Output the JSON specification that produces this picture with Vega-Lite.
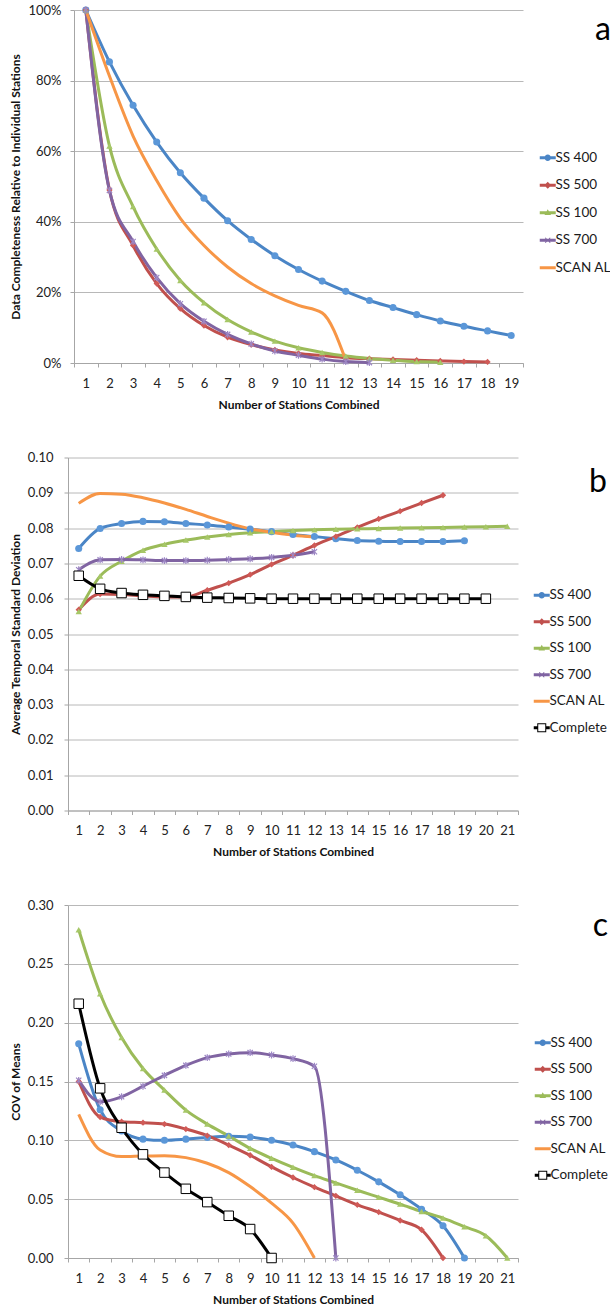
{
  "$schema": "https://vega.github.io/schema/vega-lite/v6.json",
  "padding": {"left": 9, "top": 4, "right": 0, "bottom": 0},
  "bounds": "flush",
  "spacing": 94.5,
  "resolve": {"scale": {"color": "independent", "fill": "independent", "shape": "independent"}, "legend": {"color": "independent", "fill": "independent", "shape": "independent"}},
  "config": {
    "font": "Lato",
    "view": {"stroke": null},
    "axis": {"domainColor": "#A6A6A6", "tickColor": "#A6A6A6", "gridColor": "#B8B8B8", "tickSize": 4, "labelFontSize": 13, "labelColor": "#222222", "titleFontSize": 12, "titleFontWeight": "bold", "titleColor": "#111111", "labelFont": "Lato", "titleFont": "Lato"},
    "axisX": {"grid": false, "labelAngle": 0, "labelPadding": 10, "titlePadding": 9},
    "axisY": {"labelPadding": 11},
    "legend": {"symbolSize": 100, "symbolStrokeWidth": 0, "symbolOpacity": 1, "labelFontSize": 13.5, "labelFont": "Lato", "labelColor": "#1a1a1a", "labelOffset": 1, "padding": 0, "titleFontSize": 32, "titleFontWeight": "normal", "titleFont": "Lato", "titleColor": "#000000", "titleAnchor": "end", "titleBaseline": "top", "titleLimit": 300, "labelLimit": 300}
  },
  "datasets": {
    "a": [
      {"s": "SS 400", "n": 1, "v": 1}, {"s": "SS 400", "n": 2, "v": 0.853}, {"s": "SS 400", "n": 3, "v": 0.73}, {"s": "SS 400", "n": 4, "v": 0.626}, {"s": "SS 400", "n": 5, "v": 0.539}, {"s": "SS 400", "n": 6, "v": 0.467}, {"s": "SS 400", "n": 7, "v": 0.403}, {"s": "SS 400", "n": 8, "v": 0.35}, {"s": "SS 400", "n": 9, "v": 0.304}, {"s": "SS 400", "n": 10, "v": 0.265}, {"s": "SS 400", "n": 11, "v": 0.232}, {"s": "SS 400", "n": 12, "v": 0.203}, {"s": "SS 400", "n": 13, "v": 0.177}, {"s": "SS 400", "n": 14, "v": 0.157}, {"s": "SS 400", "n": 15, "v": 0.137}, {"s": "SS 400", "n": 16, "v": 0.119}, {"s": "SS 400", "n": 17, "v": 0.104}, {"s": "SS 400", "n": 18, "v": 0.091}, {"s": "SS 400", "n": 19, "v": 0.078},
      {"s": "SS 500", "n": 1, "v": 1}, {"s": "SS 500", "n": 2, "v": 0.49}, {"s": "SS 500", "n": 3, "v": 0.333}, {"s": "SS 500", "n": 4, "v": 0.225}, {"s": "SS 500", "n": 5, "v": 0.154}, {"s": "SS 500", "n": 6, "v": 0.106}, {"s": "SS 500", "n": 7, "v": 0.073}, {"s": "SS 500", "n": 8, "v": 0.052}, {"s": "SS 500", "n": 9, "v": 0.037}, {"s": "SS 500", "n": 10, "v": 0.027}, {"s": "SS 500", "n": 11, "v": 0.021}, {"s": "SS 500", "n": 12, "v": 0.015}, {"s": "SS 500", "n": 13, "v": 0.012}, {"s": "SS 500", "n": 14, "v": 0.01}, {"s": "SS 500", "n": 15, "v": 0.008}, {"s": "SS 500", "n": 16, "v": 0.006}, {"s": "SS 500", "n": 17, "v": 0.004}, {"s": "SS 500", "n": 18, "v": 0.003},
      {"s": "SS 100", "n": 1, "v": 1}, {"s": "SS 100", "n": 2, "v": 0.615}, {"s": "SS 100", "n": 3, "v": 0.443}, {"s": "SS 100", "n": 4, "v": 0.323}, {"s": "SS 100", "n": 5, "v": 0.234}, {"s": "SS 100", "n": 6, "v": 0.171}, {"s": "SS 100", "n": 7, "v": 0.123}, {"s": "SS 100", "n": 8, "v": 0.088}, {"s": "SS 100", "n": 9, "v": 0.062}, {"s": "SS 100", "n": 10, "v": 0.043}, {"s": "SS 100", "n": 11, "v": 0.03}, {"s": "SS 100", "n": 12, "v": 0.02}, {"s": "SS 100", "n": 13, "v": 0.013}, {"s": "SS 100", "n": 14, "v": 0.008}, {"s": "SS 100", "n": 15, "v": 0.004}, {"s": "SS 100", "n": 16, "v": 0.002},
      {"s": "SS 700", "n": 1, "v": 1}, {"s": "SS 700", "n": 2, "v": 0.489}, {"s": "SS 700", "n": 3, "v": 0.344}, {"s": "SS 700", "n": 4, "v": 0.242}, {"s": "SS 700", "n": 5, "v": 0.168}, {"s": "SS 700", "n": 6, "v": 0.118}, {"s": "SS 700", "n": 7, "v": 0.081}, {"s": "SS 700", "n": 8, "v": 0.054}, {"s": "SS 700", "n": 9, "v": 0.034}, {"s": "SS 700", "n": 10, "v": 0.022}, {"s": "SS 700", "n": 11, "v": 0.011}, {"s": "SS 700", "n": 12, "v": 0.004}, {"s": "SS 700", "n": 13, "v": 0.001},
      {"s": "SCAN AL", "n": 1, "v": 1}, {"s": "SCAN AL", "n": 2, "v": 0.813}, {"s": "SCAN AL", "n": 3, "v": 0.643}, {"s": "SCAN AL", "n": 4, "v": 0.517}, {"s": "SCAN AL", "n": 5, "v": 0.41}, {"s": "SCAN AL", "n": 6, "v": 0.333}, {"s": "SCAN AL", "n": 7, "v": 0.272}, {"s": "SCAN AL", "n": 8, "v": 0.225}, {"s": "SCAN AL", "n": 9, "v": 0.19}, {"s": "SCAN AL", "n": 10, "v": 0.163}, {"s": "SCAN AL", "n": 11, "v": 0.142}, {"s": "SCAN AL", "n": 12, "v": 0.008}
    ],
    "b": [
      {"s": "SS 400", "n": 1, "v": 0.0742}, {"s": "SS 400", "n": 2, "v": 0.0799}, {"s": "SS 400", "n": 3, "v": 0.0813}, {"s": "SS 400", "n": 4, "v": 0.0819}, {"s": "SS 400", "n": 5, "v": 0.0818}, {"s": "SS 400", "n": 6, "v": 0.0813}, {"s": "SS 400", "n": 7, "v": 0.0809}, {"s": "SS 400", "n": 8, "v": 0.0803}, {"s": "SS 400", "n": 9, "v": 0.0797}, {"s": "SS 400", "n": 10, "v": 0.079}, {"s": "SS 400", "n": 11, "v": 0.0782}, {"s": "SS 400", "n": 12, "v": 0.0776}, {"s": "SS 400", "n": 13, "v": 0.077}, {"s": "SS 400", "n": 14, "v": 0.0765}, {"s": "SS 400", "n": 15, "v": 0.0763}, {"s": "SS 400", "n": 16, "v": 0.0762}, {"s": "SS 400", "n": 17, "v": 0.0762}, {"s": "SS 400", "n": 18, "v": 0.0762}, {"s": "SS 400", "n": 19, "v": 0.0764},
      {"s": "SS 500", "n": 1, "v": 0.0569}, {"s": "SS 500", "n": 2, "v": 0.0613}, {"s": "SS 500", "n": 3, "v": 0.0612}, {"s": "SS 500", "n": 4, "v": 0.0608}, {"s": "SS 500", "n": 5, "v": 0.0605}, {"s": "SS 500", "n": 6, "v": 0.0605}, {"s": "SS 500", "n": 7, "v": 0.0624}, {"s": "SS 500", "n": 8, "v": 0.0644}, {"s": "SS 500", "n": 9, "v": 0.0668}, {"s": "SS 500", "n": 10, "v": 0.0697}, {"s": "SS 500", "n": 11, "v": 0.0723}, {"s": "SS 500", "n": 12, "v": 0.0751}, {"s": "SS 500", "n": 13, "v": 0.0776}, {"s": "SS 500", "n": 14, "v": 0.0802}, {"s": "SS 500", "n": 15, "v": 0.0826}, {"s": "SS 500", "n": 16, "v": 0.0848}, {"s": "SS 500", "n": 17, "v": 0.0871}, {"s": "SS 500", "n": 18, "v": 0.0893},
      {"s": "SS 100", "n": 1, "v": 0.0564}, {"s": "SS 100", "n": 2, "v": 0.0664}, {"s": "SS 100", "n": 3, "v": 0.0706}, {"s": "SS 100", "n": 4, "v": 0.0737}, {"s": "SS 100", "n": 5, "v": 0.0754}, {"s": "SS 100", "n": 6, "v": 0.0766}, {"s": "SS 100", "n": 7, "v": 0.0775}, {"s": "SS 100", "n": 8, "v": 0.0782}, {"s": "SS 100", "n": 9, "v": 0.0787}, {"s": "SS 100", "n": 10, "v": 0.079}, {"s": "SS 100", "n": 11, "v": 0.0793}, {"s": "SS 100", "n": 12, "v": 0.0795}, {"s": "SS 100", "n": 13, "v": 0.0797}, {"s": "SS 100", "n": 14, "v": 0.0798}, {"s": "SS 100", "n": 15, "v": 0.0799}, {"s": "SS 100", "n": 16, "v": 0.08}, {"s": "SS 100", "n": 17, "v": 0.0801}, {"s": "SS 100", "n": 18, "v": 0.0802}, {"s": "SS 100", "n": 19, "v": 0.0803}, {"s": "SS 100", "n": 20, "v": 0.0804}, {"s": "SS 100", "n": 21, "v": 0.0805},
      {"s": "SS 700", "n": 1, "v": 0.0682}, {"s": "SS 700", "n": 2, "v": 0.071}, {"s": "SS 700", "n": 3, "v": 0.0711}, {"s": "SS 700", "n": 4, "v": 0.071}, {"s": "SS 700", "n": 5, "v": 0.0708}, {"s": "SS 700", "n": 6, "v": 0.0708}, {"s": "SS 700", "n": 7, "v": 0.0709}, {"s": "SS 700", "n": 8, "v": 0.0711}, {"s": "SS 700", "n": 9, "v": 0.0713}, {"s": "SS 700", "n": 10, "v": 0.0717}, {"s": "SS 700", "n": 11, "v": 0.0723}, {"s": "SS 700", "n": 12, "v": 0.0733},
      {"s": "SCAN AL", "n": 1, "v": 0.087}, {"s": "SCAN AL", "n": 2, "v": 0.0898}, {"s": "SCAN AL", "n": 3, "v": 0.0896}, {"s": "SCAN AL", "n": 4, "v": 0.0886}, {"s": "SCAN AL", "n": 5, "v": 0.0871}, {"s": "SCAN AL", "n": 6, "v": 0.0853}, {"s": "SCAN AL", "n": 7, "v": 0.0833}, {"s": "SCAN AL", "n": 8, "v": 0.0814}, {"s": "SCAN AL", "n": 9, "v": 0.0798}, {"s": "SCAN AL", "n": 10, "v": 0.0788}, {"s": "SCAN AL", "n": 11, "v": 0.078}, {"s": "SCAN AL", "n": 12, "v": 0.0775},
      {"s": "Complete", "n": 1, "v": 0.0665}, {"s": "Complete", "n": 2, "v": 0.0628}, {"s": "Complete", "n": 3, "v": 0.0616}, {"s": "Complete", "n": 4, "v": 0.0611}, {"s": "Complete", "n": 5, "v": 0.0608}, {"s": "Complete", "n": 6, "v": 0.0605}, {"s": "Complete", "n": 7, "v": 0.0603}, {"s": "Complete", "n": 8, "v": 0.0602}, {"s": "Complete", "n": 9, "v": 0.0601}, {"s": "Complete", "n": 10, "v": 0.06}, {"s": "Complete", "n": 11, "v": 0.06}, {"s": "Complete", "n": 12, "v": 0.06}, {"s": "Complete", "n": 13, "v": 0.06}, {"s": "Complete", "n": 14, "v": 0.06}, {"s": "Complete", "n": 15, "v": 0.06}, {"s": "Complete", "n": 16, "v": 0.06}, {"s": "Complete", "n": 17, "v": 0.06}, {"s": "Complete", "n": 18, "v": 0.06}, {"s": "Complete", "n": 19, "v": 0.06}, {"s": "Complete", "n": 20, "v": 0.06}
    ],
    "c": [
      {"s": "SS 400", "n": 1, "v": 0.182}, {"s": "SS 400", "n": 2, "v": 0.126}, {"s": "SS 400", "n": 3, "v": 0.108}, {"s": "SS 400", "n": 4, "v": 0.101}, {"s": "SS 400", "n": 5, "v": 0.1}, {"s": "SS 400", "n": 6, "v": 0.101}, {"s": "SS 400", "n": 7, "v": 0.1025}, {"s": "SS 400", "n": 8, "v": 0.1034}, {"s": "SS 400", "n": 9, "v": 0.1028}, {"s": "SS 400", "n": 10, "v": 0.1}, {"s": "SS 400", "n": 11, "v": 0.096}, {"s": "SS 400", "n": 12, "v": 0.0904}, {"s": "SS 400", "n": 13, "v": 0.0833}, {"s": "SS 400", "n": 14, "v": 0.0746}, {"s": "SS 400", "n": 15, "v": 0.0647}, {"s": "SS 400", "n": 16, "v": 0.0537}, {"s": "SS 400", "n": 17, "v": 0.0415}, {"s": "SS 400", "n": 18, "v": 0.0274}, {"s": "SS 400", "n": 19, "v": 0},
      {"s": "SS 500", "n": 1, "v": 0.15}, {"s": "SS 500", "n": 2, "v": 0.1198}, {"s": "SS 500", "n": 3, "v": 0.1158}, {"s": "SS 500", "n": 4, "v": 0.115}, {"s": "SS 500", "n": 5, "v": 0.1138}, {"s": "SS 500", "n": 6, "v": 0.1096}, {"s": "SS 500", "n": 7, "v": 0.104}, {"s": "SS 500", "n": 8, "v": 0.096}, {"s": "SS 500", "n": 9, "v": 0.0873}, {"s": "SS 500", "n": 10, "v": 0.0774}, {"s": "SS 500", "n": 11, "v": 0.0684}, {"s": "SS 500", "n": 12, "v": 0.0602}, {"s": "SS 500", "n": 13, "v": 0.0528}, {"s": "SS 500", "n": 14, "v": 0.0452}, {"s": "SS 500", "n": 15, "v": 0.039}, {"s": "SS 500", "n": 16, "v": 0.0319}, {"s": "SS 500", "n": 17, "v": 0.024}, {"s": "SS 500", "n": 18, "v": 0},
      {"s": "SS 100", "n": 1, "v": 0.279}, {"s": "SS 100", "n": 2, "v": 0.2246}, {"s": "SS 100", "n": 3, "v": 0.1873}, {"s": "SS 100", "n": 4, "v": 0.161}, {"s": "SS 100", "n": 5, "v": 0.1427}, {"s": "SS 100", "n": 6, "v": 0.1257}, {"s": "SS 100", "n": 7, "v": 0.1138}, {"s": "SS 100", "n": 8, "v": 0.1037}, {"s": "SS 100", "n": 9, "v": 0.0932}, {"s": "SS 100", "n": 10, "v": 0.0847}, {"s": "SS 100", "n": 11, "v": 0.0771}, {"s": "SS 100", "n": 12, "v": 0.07}, {"s": "SS 100", "n": 13, "v": 0.0638}, {"s": "SS 100", "n": 14, "v": 0.0576}, {"s": "SS 100", "n": 15, "v": 0.0517}, {"s": "SS 100", "n": 16, "v": 0.0458}, {"s": "SS 100", "n": 17, "v": 0.0395}, {"s": "SS 100", "n": 18, "v": 0.0339}, {"s": "SS 100", "n": 19, "v": 0.0266}, {"s": "SS 100", "n": 20, "v": 0.0189}, {"s": "SS 100", "n": 21, "v": 0},
      {"s": "SS 700", "n": 1, "v": 0.151}, {"s": "SS 700", "n": 2, "v": 0.1328}, {"s": "SS 700", "n": 3, "v": 0.137}, {"s": "SS 700", "n": 4, "v": 0.146}, {"s": "SS 700", "n": 5, "v": 0.1552}, {"s": "SS 700", "n": 6, "v": 0.1637}, {"s": "SS 700", "n": 7, "v": 0.1703}, {"s": "SS 700", "n": 8, "v": 0.1734}, {"s": "SS 700", "n": 9, "v": 0.1745}, {"s": "SS 700", "n": 10, "v": 0.1725}, {"s": "SS 700", "n": 11, "v": 0.1694}, {"s": "SS 700", "n": 12, "v": 0.163}, {"s": "SS 700", "n": 13, "v": 0},
      {"s": "SCAN AL", "n": 1, "v": 0.122}, {"s": "SCAN AL", "n": 2, "v": 0.0918}, {"s": "SCAN AL", "n": 3, "v": 0.0862}, {"s": "SCAN AL", "n": 4, "v": 0.0867}, {"s": "SCAN AL", "n": 5, "v": 0.087}, {"s": "SCAN AL", "n": 6, "v": 0.0853}, {"s": "SCAN AL", "n": 7, "v": 0.0805}, {"s": "SCAN AL", "n": 8, "v": 0.0726}, {"s": "SCAN AL", "n": 9, "v": 0.0607}, {"s": "SCAN AL", "n": 10, "v": 0.0466}, {"s": "SCAN AL", "n": 11, "v": 0.0297}, {"s": "SCAN AL", "n": 12, "v": 0},
      {"s": "Complete", "n": 1, "v": 0.2161}, {"s": "Complete", "n": 2, "v": 0.1442}, {"s": "Complete", "n": 3, "v": 0.1107}, {"s": "Complete", "n": 4, "v": 0.0881}, {"s": "Complete", "n": 5, "v": 0.0726}, {"s": "Complete", "n": 6, "v": 0.0588}, {"s": "Complete", "n": 7, "v": 0.0475}, {"s": "Complete", "n": 8, "v": 0.0359}, {"s": "Complete", "n": 9, "v": 0.0246}, {"s": "Complete", "n": 10, "v": 0}
    ]
  },
  "vconcat": [
    {
      "width": 455, "height": 353,
      "data": {"name": "a"},
      "encoding": {
        "x": {"field": "n", "type": "ordinal", "bandPosition": 0.5, "scale": {"type": "band", "domain": [1,2,3,4,5,6,7,8,9,10,11,12,13,14,15,16,17,18,19], "range": [6, 455], "paddingInner": 0, "paddingOuter": 0}, "axis": {"title": "Number of Stations Combined", "tickBand": "extent"}},
        "y": {"field": "v", "type": "quantitative", "scale": {"domain": [0, 1], "nice": false}, "axis": {"title": "Data Completeness Relative to Individual Stations", "values": [0, 0.2, 0.4, 0.6, 0.8, 1], "format": ".0%", "offset": -6, "labelPadding": 9, "titleX": -52}}
      },
      "layer": [
        {"mark": {"type": "line", "interpolate": "monotone", "strokeWidth": 3}, "encoding": {"color": {"field": "s", "type": "nominal", "scale": {"domain": ["SCAN AL", "SS 700", "SS 100", "SS 500", "SS 400"], "range": ["#F79646", "#8064A2", "#9BBB59", "#C0504D", "#4A85C6"]}, "legend": null}}},
        {"transform": [{"filter": "datum.s === 'SS 400'"}], "mark": {"type": "point", "shape": "circle", "filled": true, "size": 50, "color": "#5B97D8", "opacity": 1}},
        {"transform": [{"filter": "datum.s === 'SS 500'"}], "mark": {"type": "point", "shape": "diamond", "filled": true, "size": 40, "color": "#D05A57", "opacity": 1}},
        {"transform": [{"filter": "datum.s === 'SS 100'"}], "mark": {"type": "point", "shape": "triangle-up", "filled": true, "size": 40, "color": "#A6C767", "opacity": 1}},
        {"transform": [{"filter": "datum.s === 'SS 700'"}], "mark": {"type": "point", "shape": "M-1,-1L1,1M-1,1L1,-1M0,-1.3L0,1.3", "filled": false, "size": 28, "stroke": "#9C86C4", "strokeWidth": 1.2, "opacity": 1}},
        {
          "mark": {"type": "point", "filled": true, "opacity": 0},
          "encoding": {
            "shape": {"field": "s", "type": "nominal", "scale": {"domain": ["SS 400", "SS 500", "SS 100", "SS 700", "SCAN AL"], "range": [
              "M-1.6,-0.3L1.6,-0.3L1.6,0.3L-1.6,0.3Z M-0.65,0A0.65,0.65 0 1,1 0.65,0A0.65,0.65 0 1,1 -0.65,0Z",
              "M-1.6,-0.3L1.6,-0.3L1.6,0.3L-1.6,0.3Z M0,-0.7L0.7,0L0,0.7L-0.7,0Z",
              "M-1.6,-0.3L1.6,-0.3L1.6,0.3L-1.6,0.3Z M0,-0.7L0.65,0.45L-0.65,0.45Z",
              "M-1.6,-0.3L1.6,-0.3L1.6,0.3L-1.6,0.3Z M-0.43,-0.57L0.57,0.43L0.43,0.57L-0.57,-0.43Z M-0.43,0.57L-0.57,0.43L0.43,-0.57L0.57,-0.43Z",
              "M-1.6,-0.3L1.6,-0.3L1.6,0.3L-1.6,0.3Z"]},
              "legend": {"title": "a", "titlePadding": 104, "orient": "none", "legendX": 473, "legendY": 5, "rowPadding": 12.5}},
            "fill": {"field": "s", "type": "nominal", "scale": {"domain": ["SS 400", "SS 500", "SS 100", "SS 700", "SCAN AL"], "range": ["#4A85C6", "#C0504D", "#9BBB59", "#8064A2", "#F79646"]},
              "legend": {"title": "a", "titlePadding": 104, "orient": "none", "legendX": 473, "legendY": 5, "rowPadding": 12.5}}
          }
        }
      ]
    },
    {
      "width": 450, "height": 353,
      "data": {"name": "b"},
      "encoding": {
        "x": {"field": "n", "type": "ordinal", "bandPosition": 0.5, "scale": {"type": "band", "domain": [1,2,3,4,5,6,7,8,9,10,11,12,13,14,15,16,17,18,19,20,21], "paddingInner": 0, "paddingOuter": 0}, "axis": {"title": "Number of Stations Combined", "tickBand": "extent"}},
        "y": {"field": "v", "type": "quantitative", "scale": {"domain": [0, 0.1], "nice": false}, "axis": {"title": "Average Temporal Standard Deviation", "values": [0, 0.01, 0.02, 0.03, 0.04, 0.05, 0.06, 0.07, 0.08, 0.09, 0.1], "format": ".2f", "titleX": -46}}
      },
      "layer": [
        {"mark": {"type": "line", "interpolate": "monotone", "strokeWidth": 3}, "encoding": {"color": {"field": "s", "type": "nominal", "scale": {"domain": ["Complete", "SCAN AL", "SS 700", "SS 100", "SS 500", "SS 400"], "range": ["#000000", "#F79646", "#8064A2", "#9BBB59", "#C0504D", "#4A85C6"]}, "legend": null}}},
        {"transform": [{"filter": "datum.s === 'SS 400'"}], "mark": {"type": "point", "shape": "circle", "filled": true, "size": 50, "color": "#5B97D8", "opacity": 1}},
        {"transform": [{"filter": "datum.s === 'SS 500'"}], "mark": {"type": "point", "shape": "diamond", "filled": true, "size": 40, "color": "#D05A57", "opacity": 1}},
        {"transform": [{"filter": "datum.s === 'SS 100'"}], "mark": {"type": "point", "shape": "triangle-up", "filled": true, "size": 40, "color": "#A6C767", "opacity": 1}},
        {"transform": [{"filter": "datum.s === 'SS 700'"}], "mark": {"type": "point", "shape": "M-1,-1L1,1M-1,1L1,-1M0,-1.3L0,1.3", "filled": false, "size": 28, "stroke": "#9C86C4", "strokeWidth": 1.2, "opacity": 1}},
        {"transform": [{"filter": "datum.s === 'Complete'"}], "mark": {"type": "point", "shape": "square", "filled": true, "size": 90, "fill": "#FFFFFF", "stroke": "#000000", "strokeWidth": 1, "opacity": 1}},
        {
          "mark": {"type": "point", "filled": true, "opacity": 0},
          "encoding": {
            "shape": {"field": "s", "type": "nominal", "scale": {"domain": ["SS 400", "SS 500", "SS 100", "SS 700", "SCAN AL", "Complete"], "range": [
              "M-1.6,-0.3L1.6,-0.3L1.6,0.3L-1.6,0.3Z M-0.65,0A0.65,0.65 0 1,1 0.65,0A0.65,0.65 0 1,1 -0.65,0Z",
              "M-1.6,-0.3L1.6,-0.3L1.6,0.3L-1.6,0.3Z M0,-0.7L0.7,0L0,0.7L-0.7,0Z",
              "M-1.6,-0.3L1.6,-0.3L1.6,0.3L-1.6,0.3Z M0,-0.7L0.65,0.45L-0.65,0.45Z",
              "M-1.6,-0.3L1.6,-0.3L1.6,0.3L-1.6,0.3Z M-0.43,-0.57L0.57,0.43L0.43,0.57L-0.57,-0.43Z M-0.43,0.57L-0.57,0.43L0.43,-0.57L0.57,-0.43Z",
              "M-1.6,-0.3L1.6,-0.3L1.6,0.3L-1.6,0.3Z",
              "M-1.6,-0.3L-0.9,-0.3L-0.9,0.3L-1.6,0.3Z M0.9,-0.3L1.6,-0.3L1.6,0.3L0.9,0.3Z M-0.9,-0.9L0.9,-0.9L0.9,0.9L-0.9,0.9Z M-0.7,-0.7L-0.7,0.7L0.7,0.7L0.7,-0.7Z"]},
              "legend": {"title": "b", "titlePadding": 90, "orient": "none", "legendX": 467, "legendY": 9, "rowPadding": 11.5}},
            "fill": {"field": "s", "type": "nominal", "scale": {"domain": ["SS 400", "SS 500", "SS 100", "SS 700", "SCAN AL", "Complete"], "range": ["#4A85C6", "#C0504D", "#9BBB59", "#8064A2", "#F79646", "#000000"]},
              "legend": {"title": "b", "titlePadding": 90, "orient": "none", "legendX": 467, "legendY": 9, "rowPadding": 11.5}}
          }
        }
      ]
    },
    {
      "width": 450, "height": 353,
      "data": {"name": "c"},
      "encoding": {
        "x": {"field": "n", "type": "ordinal", "bandPosition": 0.5, "scale": {"type": "band", "domain": [1,2,3,4,5,6,7,8,9,10,11,12,13,14,15,16,17,18,19,20,21], "paddingInner": 0, "paddingOuter": 0}, "axis": {"title": "Number of Stations Combined", "tickBand": "extent"}},
        "y": {"field": "v", "type": "quantitative", "scale": {"domain": [0, 0.3], "nice": false}, "axis": {"title": "COV of Means", "values": [0, 0.05, 0.1, 0.15, 0.2, 0.25, 0.3], "format": ".2f", "titleX": -46}}
      },
      "layer": [
        {"mark": {"type": "line", "interpolate": "monotone", "strokeWidth": 3}, "encoding": {"color": {"field": "s", "type": "nominal", "scale": {"domain": ["Complete", "SCAN AL", "SS 700", "SS 100", "SS 500", "SS 400"], "range": ["#000000", "#F79646", "#8064A2", "#9BBB59", "#C0504D", "#4A85C6"]}, "legend": null}}},
        {"transform": [{"filter": "datum.s === 'SS 400'"}], "mark": {"type": "point", "shape": "circle", "filled": true, "size": 50, "color": "#5B97D8", "opacity": 1}},
        {"transform": [{"filter": "datum.s === 'SS 500'"}], "mark": {"type": "point", "shape": "diamond", "filled": true, "size": 40, "color": "#D05A57", "opacity": 1}},
        {"transform": [{"filter": "datum.s === 'SS 100'"}], "mark": {"type": "point", "shape": "triangle-up", "filled": true, "size": 40, "color": "#A6C767", "opacity": 1}},
        {"transform": [{"filter": "datum.s === 'SS 700'"}], "mark": {"type": "point", "shape": "M-1,-1L1,1M-1,1L1,-1M0,-1.3L0,1.3", "filled": false, "size": 28, "stroke": "#9C86C4", "strokeWidth": 1.2, "opacity": 1}},
        {"transform": [{"filter": "datum.s === 'Complete'"}], "mark": {"type": "point", "shape": "square", "filled": true, "size": 90, "fill": "#FFFFFF", "stroke": "#000000", "strokeWidth": 1, "opacity": 1}},
        {
          "mark": {"type": "point", "filled": true, "opacity": 0},
          "encoding": {
            "shape": {"field": "s", "type": "nominal", "scale": {"domain": ["SS 400", "SS 500", "SS 100", "SS 700", "SCAN AL", "Complete"], "range": [
              "M-1.6,-0.3L1.6,-0.3L1.6,0.3L-1.6,0.3Z M-0.65,0A0.65,0.65 0 1,1 0.65,0A0.65,0.65 0 1,1 -0.65,0Z",
              "M-1.6,-0.3L1.6,-0.3L1.6,0.3L-1.6,0.3Z M0,-0.7L0.7,0L0,0.7L-0.7,0Z",
              "M-1.6,-0.3L1.6,-0.3L1.6,0.3L-1.6,0.3Z M0,-0.7L0.65,0.45L-0.65,0.45Z",
              "M-1.6,-0.3L1.6,-0.3L1.6,0.3L-1.6,0.3Z M-0.43,-0.57L0.57,0.43L0.43,0.57L-0.57,-0.43Z M-0.43,0.57L-0.57,0.43L0.43,-0.57L0.57,-0.43Z",
              "M-1.6,-0.3L1.6,-0.3L1.6,0.3L-1.6,0.3Z",
              "M-1.6,-0.3L-0.9,-0.3L-0.9,0.3L-1.6,0.3Z M0.9,-0.3L1.6,-0.3L1.6,0.3L0.9,0.3Z M-0.9,-0.9L0.9,-0.9L0.9,0.9L-0.9,0.9Z M-0.7,-0.7L-0.7,0.7L0.7,0.7L0.7,-0.7Z"]},
              "legend": {"title": "c", "titlePadding": 93, "orient": "none", "legendX": 468, "legendY": 6, "rowPadding": 11.5}},
            "fill": {"field": "s", "type": "nominal", "scale": {"domain": ["SS 400", "SS 500", "SS 100", "SS 700", "SCAN AL", "Complete"], "range": ["#4A85C6", "#C0504D", "#9BBB59", "#8064A2", "#F79646", "#000000"]},
              "legend": {"title": "c", "titlePadding": 93, "orient": "none", "legendX": 468, "legendY": 6, "rowPadding": 11.5}}
          }
        }
      ]
    }
  ]
}
